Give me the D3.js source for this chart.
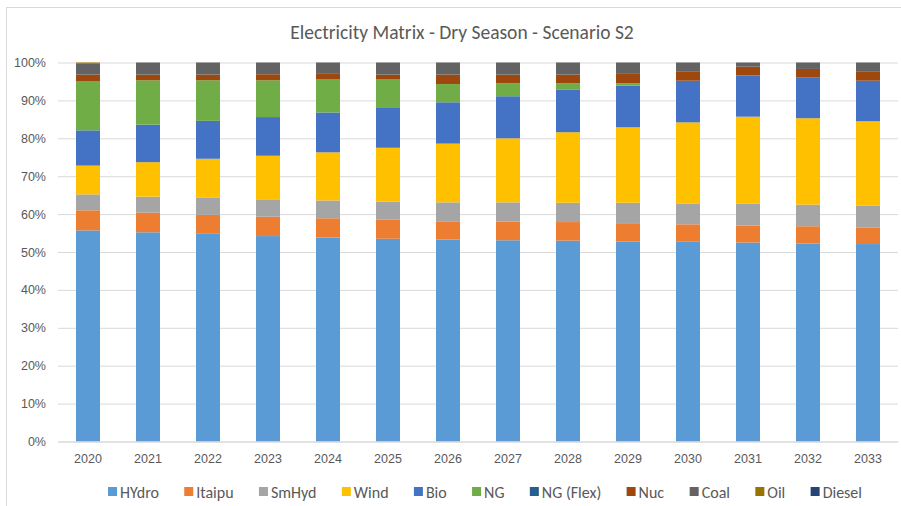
<!DOCTYPE html>
<html>
<head>
<meta charset="utf-8">
<script src="https://cdn.jsdelivr.net/npm/d3@7"></script>
<style>
  html, body { margin: 0; padding: 0; background: #fff; }
  svg { display: block; font-family: Carlito, Calibri, Lato, "Liberation Sans", sans-serif; }
</style>
</head>
<body>
<svg id="chart" width="901" height="506"></svg>
<script>
// Generation share by source (percent of total), dry season, scenario S2
const years = ["2020","2021","2022","2023","2024","2025","2026","2027","2028","2029","2030","2031","2032","2033"];
const sources = ["HYdro","Itaipu","SmHyd","Wind","Bio","NG","NG (Flex)","Nuc","Coal","Oil","Diesel"];
const colors = ["#5B9BD5","#ED7D31","#A5A5A5","#FFC000","#4472C4","#70AD47","#255E91","#9E480E","#636363","#997300","#264478"];

const hydro   = [55.7, 55.2, 54.8, 54.2, 53.8, 53.5, 53.3, 53.1, 53.0, 52.8, 52.7, 52.5, 52.2, 52.1];
const itaipu  = [ 5.3,  5.2,  5.0,  5.1,  5.1,  5.1,  4.8,  4.9,  4.9,  4.8,  4.6,  4.5,  4.6,  4.4];
const smHyd   = [ 4.2,  4.2,  4.6,  4.6,  4.7,  4.7,  5.0,  5.1,  5.1,  5.4,  5.4,  5.7,  5.7,  5.7];
const wind    = [ 7.6,  9.1, 10.2, 11.5, 12.7, 14.2, 15.5, 16.9, 18.6, 19.9, 21.5, 23.0, 22.8, 22.3];
const bio     = [ 9.3,  9.9, 10.0, 10.2, 10.5, 10.5, 10.9, 11.1, 11.3, 11.0, 11.0, 10.9, 10.7, 10.7];
const ng      = [13.0, 11.7, 10.7,  9.7,  8.7,  7.5,  4.8,  3.4,  1.6,  0.6,  0.0,  0.0,  0.0,  0.0];
const ngFlex  = [ 0.0,  0.0,  0.0,  0.0,  0.0,  0.0,  0.0,  0.0,  0.0,  0.0,  0.0,  0.0,  0.0,  0.0];
const nuc     = [ 1.7,  1.5,  1.5,  1.6,  1.5,  1.3,  2.5,  2.3,  2.3,  2.5,  2.5,  2.3,  2.3,  2.5];
const coal    = [ 3.0,  3.2,  3.2,  3.1,  3.0,  3.2,  3.2,  3.2,  3.2,  3.0,  2.3,  1.1,  1.7,  2.3];
const oil     = [ 0.2,  0.0,  0.0,  0.0,  0.0,  0.0,  0.0,  0.0,  0.0,  0.0,  0.0,  0.0,  0.0,  0.0];
const diesel  = [ 0.0,  0.0,  0.0,  0.0,  0.0,  0.0,  0.0,  0.0,  0.0,  0.0,  0.0,  0.0,  0.0,  0.0];

const yTicks = [0, 10, 20, 30, 40, 50, 60, 70, 80, 90, 100];
const titleText = "Electricity Matrix - Dry Season - Scenario S2";

const seriesValues = [hydro, itaipu, smHyd, wind, bio, ng, ngFlex, nuc, coal, oil, diesel];

// Build row table for the stack layout
const rows = years.map((yr, i) => {
  const r = { year: yr };
  sources.forEach((s, k) => { r[s] = seriesValues[k][i]; });
  return r;
});

const svg = d3.select("#chart");
const W = 901, H = 506;
const margin = { left: 58, right: 3, top: 62.5, bottom: 64.5 };
const textColor = "#595959";

// Chart frame
svg.append("rect")
  .attr("x", 6.5).attr("y", 7.5)
  .attr("width", W).attr("height", H)
  .attr("fill", "#fff").attr("stroke", "#D9D9D9").attr("stroke-width", 1);

const x = d3.scaleBand().domain(years).range([margin.left, W - margin.right]).paddingInner(0.6).paddingOuter(0.3);
const y = d3.scaleLinear().domain([0, 100]).range([H - margin.bottom, margin.top]);

// Horizontal gridlines and y axis labels
const yAxis = d3.axisLeft(y).tickValues(yTicks).tickFormat(d => d + "%")
  .tickSize(-(W - margin.right - margin.left)).tickPadding(12);
const gy = svg.append("g").attr("transform", `translate(${margin.left},0)`).call(yAxis);
gy.select(".domain").remove();
gy.selectAll(".tick line").attr("stroke", "#D9D9D9").attr("stroke-width", 1);
gy.selectAll(".tick text").attr("fill", textColor).style("font-size", "12.5px");

// Stacked bars
const stack = d3.stack().keys(sources);
const layers = stack(rows);
svg.append("g").selectAll("g")
  .data(layers)
  .join("g")
  .attr("fill", (d, i) => colors[i])
  .selectAll("rect")
  .data(d => d)
  .join("rect")
  .attr("x", d => x(d.data.year))
  .attr("width", x.bandwidth())
  .attr("y", d => y(d[1]))
  .attr("height", d => Math.max(0, y(d[0]) - y(d[1])));

// X axis labels
const xAxis = d3.axisBottom(x).tickSize(0).tickPadding(13);
const gx = svg.append("g").attr("transform", `translate(0,${H - margin.bottom})`).call(xAxis);
gx.select(".domain").attr("stroke", "#D9D9D9");
gx.selectAll(".tick text").attr("fill", textColor).style("font-size", "12.5px");

// Title
svg.append("text")
  .attr("x", 462).attr("y", 38.5)
  .attr("text-anchor", "middle")
  .attr("fill", textColor)
  .style("font-size", "19.5px")
  .text(titleText);

// Legend: items laid out from measured text widths across a fixed span
const legendLeft = 108, legendRight = 862;
const legend = svg.append("g").attr("transform", "translate(0,492)");
const items = legend.selectAll("g").data(sources).join("g");
items.append("rect")
  .attr("width", 9).attr("height", 9).attr("y", -5)
  .attr("fill", (d, i) => colors[i]);
items.append("text")
  .attr("x", 12).attr("dy", "0.35em")
  .attr("fill", textColor)
  .style("font-size", "16px")
  .text(d => d);
let widths = [];
items.each(function () { widths.push(this.getBBox().width); });
const gap = (legendRight - legendLeft - d3.sum(widths)) / (widths.length - 1);
let cx = legendLeft;
items.attr("transform", (d, i) => {
  const t = `translate(${cx},0)`;
  cx += widths[i] + gap;
  return t;
});
</script>
</body>
</html>
